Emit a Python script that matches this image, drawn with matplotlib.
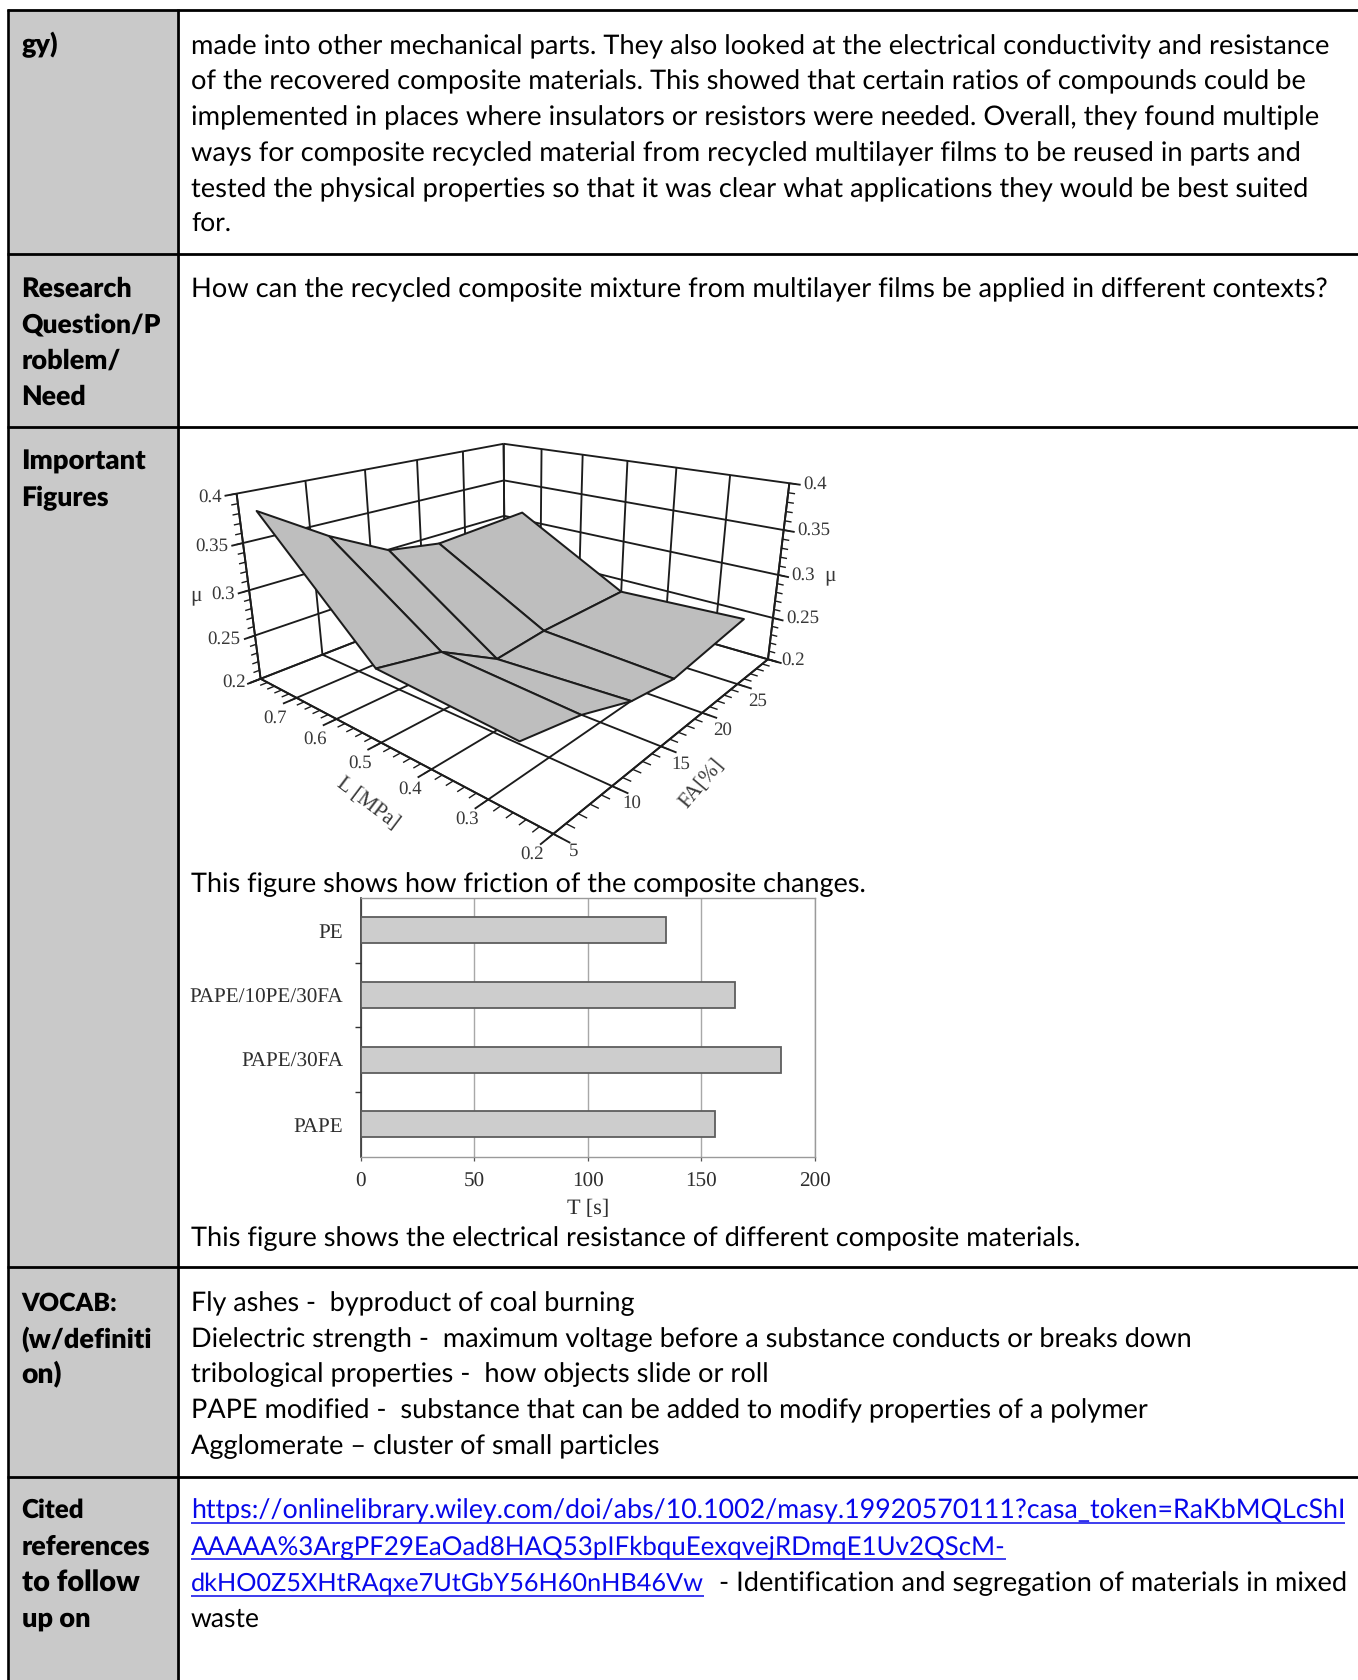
import numpy as np, matplotlib
matplotlib.use('Agg')
import matplotlib.pyplot as plt
from matplotlib.patches import Rectangle
from mpl_toolkits.mplot3d import proj3d

plt.rcParams['text.hinting'] = 'no_hinting'

# ---------- data ----------
FA_PCT = [5, 10, 15, 20, 30]
L_MPA = [0.75, 0.5, 0.25]
MU_L075 = [0.388, 0.346, 0.312, 0.302, 0.310]
MU_L050 = [0.274, 0.262, 0.226, 0.232, 0.234]
MU_L025 = [0.266, 0.254, 0.234, 0.226, 0.240]
Z_TICKS = [0.2, 0.25, 0.3, 0.35, 0.4]
Z_LABELS = ['0.2', '0.25', '0.3', '0.35', '0.4']
L_TICKS = [0.2, 0.3, 0.4, 0.5, 0.6, 0.7, 0.8]
L_LABELS = ['0.2', '0.3', '0.4', '0.5', '0.6', '0.7']
FA_TICKS = [5, 10, 15, 20, 25, 30]
FA_LABELS = ['5', '10', '15', '20', '25']

BAR_CATS = ['PAPE', 'PAPE/30FA', 'PAPE/10PE/30FA', 'PE']
BAR_VALS = [156, 185, 165, 134.5]
T_TICKS = [0, 50, 100, 150, 200]

# (text, baseline y, right end x)
ROW1 = [("made into other mechanical parts. They also looked at the electrical conductivity and resistance", 54, 1330),
        ("of the recovered composite materials. This showed that certain ratios of compounds could be", 89, 1304),
        ("implemented in places where insulators or resistors were needed. Overall, they found multiple", 125, 1318),
        ("ways for composite recycled material from recycled multilayer films to be reused in parts and", 161, 1301),
        ("tested the physical properties so that it was clear what applications they would be best suited", 197, 1306),
        ("for.", 232, 231),
        ("How can the recycled composite mixture from multilayer films be applied in different contexts?", 297, 1326),
        ("This figure shows how friction of the composite changes.", 892, 866),
        ("This figure shows the electrical resistance of different composite materials.", 1246, 1081)]
VOCAB = [("Fly ashes -  byproduct of coal burning", 1311, 634),
         ("Dielectric strength -  maximum voltage before a substance conducts or breaks down", 1347, 1190),
         ("tribological properties -  how objects slide or roll", 1382, 767),
         ("PAPE modified -  substance that can be added to modify properties of a polymer", 1418, 1145),
         ("Agglomerate \u2013 cluster of small particles", 1454, 660)]
LINKS = [("https://onlinelibrary.wiley.com/doi/abs/10.1002/masy.19920570111?casa_token=RaKbMQLcShI", 1518, 1345),
         ("AAAAA%3ArgPF29EaOad8HAQ53pIFkbquEexqvejRDmqE1Uv2QScM-", 1554, 1004),
         ("dkHO0Z5XHtRAqxe7UtGbY56H60nHB46Vw", 1591, 705)]
HEADS = [("gy)", 53, 58), ("Research", 297, 132), ("Question/P", 333, 161), ("roblem/", 369, 121), ("Need", 405, 86),
         ("Important", 470, 146), ("Figures", 506, 109), ("VOCAB:", 1311, 117), ("(w/definiti", 1347, 152),
         ("on)", 1382, 62), ("Cited", 1518, 84), ("references", 1555, 150), ("to follow", 1591, 139),
         ("up on", 1627, 90)]
ROW_LINES = [10, 254, 427, 1267, 1477]

W, H = 1358, 1680
SANS = 'Lato'
SERIF = 'Liberation Serif'
BLUE = '#0808EA'
fig = plt.figure(figsize=(W / 100, H / 100), dpi=100, facecolor='white')
bg = fig.add_axes([0, 0, 1, 1], zorder=0)
bg.set_xlim(0, W); bg.set_ylim(H, 0); bg.axis('off')
r = fig.canvas.get_renderer()

# table
bg.add_patch(Rectangle((9, 10), 168, H - 10, fc='#C9C9C9', ec='none'))
for y in ROW_LINES:
    bg.plot([7, W], [y, y], color='black', lw=2.0, solid_capstyle='butt')
for x in (8.2, 177.8):
    bg.plot([x, x], [9, H], color='black', lw=1.9 if x < 100 else 2.0, solid_capstyle='butt')

def fitted(x, y, s, end, **k):
    t = bg.text(x, y, s, fontfamily=SANS, fontsize=20, va='baseline', ha='left', **k)
    t.set_fontsize(20 * (end - x) / t.get_window_extent(r).width)
    return t

for s, y, e in HEADS:
    fitted(21.5, y, s, e, fontweight='heavy', color='black')
for s, y, e in ROW1 + VOCAB:
    fitted(191, y, s, e, color='black')
for s, y, e in LINKS:
    t = fitted(191, y, s, e, color=BLUE)
    b = t.get_window_extent(r)
    bg.plot([b.x0, b.x1], [y + 5, y + 5], color=BLUE, lw=1.1, solid_capstyle='butt')
fitted(719, 1591, "- Identification and segregation of materials in mixed", 1347, color='black')
fitted(191, 1627, "waste", 260, color='black')

# ---------- 3D surface ----------
S = 547.56
ax = fig.add_axes([240.1 / W, 816.45 / H, S / W, S / H], projection='3d', computed_zorder=False, zorder=2)
ax.patch.set_alpha(0)
ax.set_xlim(5, 30, view_margin=0); ax.set_ylim(0.2, 0.8, view_margin=0); ax.set_zlim(0.2, 0.4, view_margin=0)
ax.view_init(elev=19.588, azim=-139.934)
ax.set_proj_type('persp', focal_length=0.25324)
ax.set_box_aspect((1, 0.9994, 0.50949))
ax.set_axis_off()
ax.apply_aspect()

INK = '#1c1c1c'
LW = 1.35
x0, x1, y0, y1, z0, z1 = 5, 30, 0.2, 0.8, 0.2, 0.4
def seg(xs, ys, zs, lw=LW, zo=1):
    ax.plot(xs, ys, zs, color=INK, lw=lw, zorder=zo, solid_capstyle='butt', clip_on=False)

for z in Z_TICKS:               # wall horizontals
    seg([x0 - 0.8, x1], [y1, y1], [z, z])
    seg([x1, x1], [y1, y0 - 0.018], [z, z])
for x in FA_TICKS:
    seg([x, x], [y1, y1], [z0, z1])          # left wall verticals
    seg([x, x], [y0 - 0.024, y1], [z0, z0])  # floor
for y in L_TICKS:
    seg([x1, x1], [y, y], [z0, z1])          # right wall verticals
    seg([x0 - 1.0, x1], [y, y], [z0, z0])    # floor
# outer axes
seg([x0, x0], [y0, y1], [z0, z0]); seg([x0, x1], [y0, y0], [z0, z0])
seg([x0, x0], [y1, y1], [z0, z1]); seg([x1, x1], [y0, y0], [z0, z1])
# minor ticks
for z in np.arange(0.2, 0.4001, 0.01):
    seg([x0 - 0.45, x0], [y1, y1], [z, z], lw=1.0)
    seg([x1, x1], [y0 - 0.011, y0], [z, z], lw=1.0)
for y in np.arange(0.2, 0.8001, 0.02):
    seg([x0 - 0.55, x0], [y, y], [z0, z0], lw=1.0)
for x in np.arange(5, 30.01, 1):
    seg([x, x], [y0 - 0.013, y0], [z0, z0], lw=1.0)

XX, YY = np.meshgrid(FA_PCT, L_MPA)
ZZ = np.array([MU_L075, MU_L050, MU_L025])
ax.plot_surface(XX, YY, ZZ, color='#BEBEBE', edgecolor=INK, linewidth=1.45, shade=False,
                rstride=1, cstride=1, zorder=5, antialiased=True)

TK = dict(fontfamily=SERIF, fontsize=13.6, color='#383838', va='center')
def tick_label(x, y, z, s, dx, dy, ha):
    """Tick label placed at the projected position of a 3D tick, offset in pixels."""
    u, v, _ = proj3d.proj_transform(x, y, z, ax.get_proj())
    px, py = ax.transData.transform((float(u), float(v)))
    bg.text(px + dx, H - py + dy, s, ha=ha, **TK)

for z, s in zip(Z_TICKS, Z_LABELS):
    tick_label(x0, y1, z, s, -14.5, 3.5, 'right')
    tick_label(x1, y0, z, s, 13.5, 0.5, 'left')
for y, s in zip(L_TICKS, L_LABELS):
    tick_label(x0, y, z0, s, -21, 20, 'center')
for x, s in zip(FA_TICKS, FA_LABELS):
    tick_label(x, y0, z0, s, 20, 17.5, 'center')

LB = dict(fontfamily=SERIF, fontsize=15.5, color='#383838', ha='center', va='center')
bg.text(196, 595, '\u03bc', **LB)
bg.text(830, 575, '\u03bc', **LB)
bg.text(368, 803, 'L [MPa]', rotation=-37, rotation_mode='anchor', **LB)
bg.text(702, 783, 'FA[%]', rotation=50, rotation_mode='anchor', **LB)

# ---------- bar chart ----------
l, rgt, top, bot = 360.8, 814.8, 898, 1156.7
bx = fig.add_axes([l / W, 1 - bot / H, (rgt - l) / W, (bot - top) / H], zorder=2)
bx.patch.set_alpha(0)
pos = np.arange(len(BAR_CATS))
bx.barh(pos, BAR_VALS, height=0.4, color='#CDCDCD', edgecolor='#5e5e5e', linewidth=1.3, zorder=3)
bx.set_xlim(0, 200); bx.set_ylim(-0.5, 3.5)
bx.set_xticks(T_TICKS)
bx.set_yticks(pos, BAR_CATS)
bx.set_yticks(pos[:-1] + 0.5, minor=True)
bx.tick_params(axis='y', which='major', length=0, pad=12.5, labelsize=15.2, labelcolor='#2e2e2e')
bx.tick_params(axis='y', which='minor', length=4, width=1, color='#333333')
bx.tick_params(axis='x', length=3, width=0.9, color='#555555', pad=8, labelsize=15.2, labelcolor='#2e2e2e')
for lab in bx.get_xticklabels() + bx.get_yticklabels():
    lab.set_fontfamily(SERIF)
bx.xaxis.grid(True, color='#a8a8a8', lw=1.0, zorder=0)
bx.set_axisbelow(True)
for k, sp in bx.spines.items():
    sp.set_color('#333333' if k == 'left' else '#9a9a9a')
    sp.set_linewidth(1.2 if k == 'left' else 1.0)
bx.set_xlabel('T [s]', fontfamily=SERIF, fontsize=16, color='#2e2e2e', labelpad=5.5)

fig.savefig('out.png', dpi=100, facecolor='white')
